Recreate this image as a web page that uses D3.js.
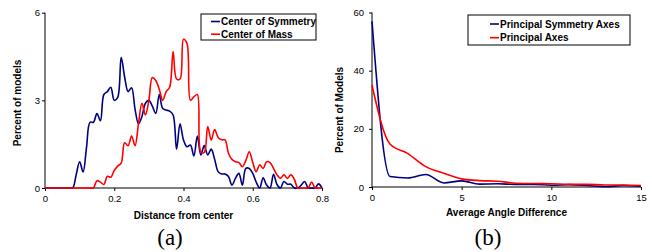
<!DOCTYPE html>
<html>
<head>
<meta charset="utf-8">
<script src="https://cdn.jsdelivr.net/npm/d3@7"></script>
<style>
  body { margin: 0; background: #fff; }
  svg { display: block; }
  text { font-family: Arial, "Liberation Sans", sans-serif; fill: #000; }
  .tick text { font-size: 9.5px; }
  .title { font-size: 10px; font-weight: bold; }
  .legend text { font-size: 10px; font-weight: bold; }
  .caption { font-family: "Times New Roman", "Liberation Serif", serif; font-size: 23px; }
</style>
</head>
<body>
<div id="chart-area"></div>
<script>
// (a) distance from center, step 0.01 from 0 to 0.8
let distX = d3.range(0, 81).map(i => i / 100);
let symmetryCenter = [
  0, 0, 0, 0, 0, 0, 0, 0, 0, 0.45,
  0.9, 0.55, 1.4, 2.25, 2.25, 2.55, 2.3, 3.2, 3.3, 3.45,
  3.0, 3.1, 4.47, 3.8, 3.3, 3.43, 2.7, 2.2, 2.45, 2.9,
  3.0, 2.8, 2.55, 3.2, 2.72, 2.67, 2.63, 2.5, 1.33, 2.2,
  1.64, 1.41, 1.47, 1.1, 1.78, 1.13, 1.45, 1.13, 1.33, 0.98,
  0.56, 0.48, 0.48, 0.39, 0.1, 0.33, 0.5, 0.1, 0.67, 0.67,
  0.5, 0.2, 0, 0.35, 0.1, 0, 0.47, 0.12, 0, 0.22,
  0.13, 0.13, 0, 0, 0.1, 0.22, 0, 0, 0, 0.14,
  0
];
let massCenter = [
  0, 0, 0, 0, 0, 0, 0, 0, 0, 0,
  0, 0, 0, 0, 0, 0.25, 0.2, 0.12, 0.4, 0.37,
  0.6, 0.75, 0.85, 1.55, 1.45, 1.78, 1.45, 2.2, 2.9, 2.5,
  3.0, 3.78, 3.68, 3.38, 3.0, 3.3, 3.45, 4.67, 3.73, 3.73,
  5.09, 4.95, 3.0, 3.12, 3.2, 1.24, 1.22, 2.1, 1.64, 2.0,
  1.73, 1.65, 1.65, 1.18, 0.98, 0.9, 0.87, 0.73, 0.94, 1.24,
  0.87, 0.56, 0.79, 0.67, 0.9, 0.87, 0.67, 0.45, 0.33, 0.45,
  0.33, 0.45, 0.3, 0, 0, 0, 0, 0.2, 0, 0,
  0
];
let distTicks = [0, 0.2, 0.4, 0.6, 0.8];
let distYTicks = [0, 3, 6];

// (b) average angle difference
let angleX = d3.range(0, 16);
let symmetryAxes = [57, 3.6, 3.1, 4.3, 1.4, 2.1, 1.0, 1.1, 0.9, 0.9, 0.6, 0.8, 0.5, 0.1, 0.5, 0.2];
let principalAxes = [35, 14.8, 11.5, 7.0, 4.7, 2.8, 2.2, 2.0, 1.3, 1.2, 1.1, 0.9, 0.9, 0.7, 0.7, 0.5];
let angleTicks = [0, 5, 10, 15];
let angleYTicks = [0, 20, 40, 60];

let blue = "#000080", red = "#ff0000";

let svg = d3.select("#chart-area").append("svg")
    .attr("width", 652)
    .attr("height", 252);

function drawPanel(p) {
  let x = d3.scaleLinear().domain(p.xDomain).range(p.xRange);
  let y = d3.scaleLinear().domain(p.yDomain).range(p.yRange);
  let g = svg.append("g");

  g.append("g")
      .attr("transform", `translate(0, ${p.yRange[0]})`)
      .call(d3.axisBottom(x).tickValues(p.xTicks).tickSize(3).tickPadding(4)
        .tickFormat(d3.format(p.xFormat)))
      .call(a => a.select(".domain").attr("d", `M${p.xRange[0]},0H${p.xRange[1]}`));

  g.append("g")
      .attr("transform", `translate(${p.xRange[0]}, 0)`)
      .call(d3.axisLeft(y).tickValues(p.yTicks).tickSize(3).tickPadding(p.yPad)
        .tickFormat(d3.format("d")))
      .call(a => a.select(".domain").attr("d", `M0,${p.yRange[0]}V${p.yRange[1]}`));

  let line = d3.line()
      .x((d, i) => x(p.xs[i]))
      .y(d => y(d))
      .curve(p.curve);

  p.series.forEach(s => {
    g.append("path")
        .datum(s.values)
        .attr("fill", "none")
        .attr("stroke", s.color)
        .attr("stroke-width", 1.6)
        .attr("d", line);
  });

  g.append("text")
      .attr("class", "title")
      .attr("x", (p.xRange[0] + p.xRange[1]) / 2)
      .attr("y", p.xTitleY)
      .attr("text-anchor", "middle")
      .text(p.xTitle);

  g.append("text")
      .attr("class", "title")
      .attr("transform", `translate(${p.yTitleX}, ${p.yTitleMid}) rotate(-90)`)
      .attr("text-anchor", "middle")
      .text(p.yTitle);

  // legend
  let lg = g.append("g").attr("class", "legend");
  lg.append("rect")
      .attr("x", p.legend.x).attr("y", p.legend.y)
      .attr("width", p.legend.w).attr("height", p.legend.h)
      .attr("fill", "#fff").attr("stroke", "#000").attr("stroke-width", 1);
  p.series.forEach((s, i) => {
    let ly = p.legend.y + p.legend.row0 + i * p.legend.step;
    lg.append("line")
        .attr("x1", p.legend.x + p.legend.lineX).attr("x2", p.legend.x + p.legend.lineX + 9)
        .attr("y1", ly).attr("y2", ly)
        .attr("stroke", s.color).attr("stroke-width", 1.6);
    lg.append("text")
        .attr("x", p.legend.x + p.legend.lineX + 10)
        .attr("y", ly)
        .attr("dy", "0.35em")
        .text(s.name);
  });

  g.append("text")
      .attr("class", "caption")
      .attr("x", p.captionX)
      .attr("y", 245)
      .attr("text-anchor", "middle")
      .text(p.caption);
}

drawPanel({
  xs: distX,
  xDomain: [0, 0.8], xRange: [45, 322],
  yDomain: [0, 6], yRange: [188, 12.7],
  xTicks: distTicks, yTicks: distYTicks, xFormat: "", yPad: 2,
  curve: d3.curveCatmullRom.alpha(0.5),
  series: [
    {name: "Center of Symmetry", color: blue, values: symmetryCenter},
    {name: "Center of Mass", color: red, values: massCenter}
  ],
  xTitle: "Distance from center", xTitleY: 219,
  yTitle: "Percent of models", yTitleX: 21, yTitleMid: 103,
  legend: {x: 201, y: 14, w: 115, h: 26, lineX: 10, row0: 7.5, step: 12.7},
  caption: "(a)", captionX: 170
});

drawPanel({
  xs: angleX,
  xDomain: [0, 15], xRange: [372, 641],
  yDomain: [0, 60], yRange: [187, 12.5],
  xTicks: angleTicks, yTicks: angleYTicks, xFormat: "d", yPad: 5,
  curve: d3.curveMonotoneX,
  series: [
    {name: "Principal Symmetry Axes", color: blue, values: symmetryAxes},
    {name: "Principal Axes", color: red, values: principalAxes}
  ],
  xTitle: "Average Angle Difference", xTitleY: 216,
  yTitle: "Percent of Models", yTitleX: 343, yTitleMid: 110,
  legend: {x: 468, y: 15, w: 162, h: 30, lineX: 22, row0: 9, step: 13.7},
  caption: "(b)", captionX: 488
});
</script>
</body>
</html>
